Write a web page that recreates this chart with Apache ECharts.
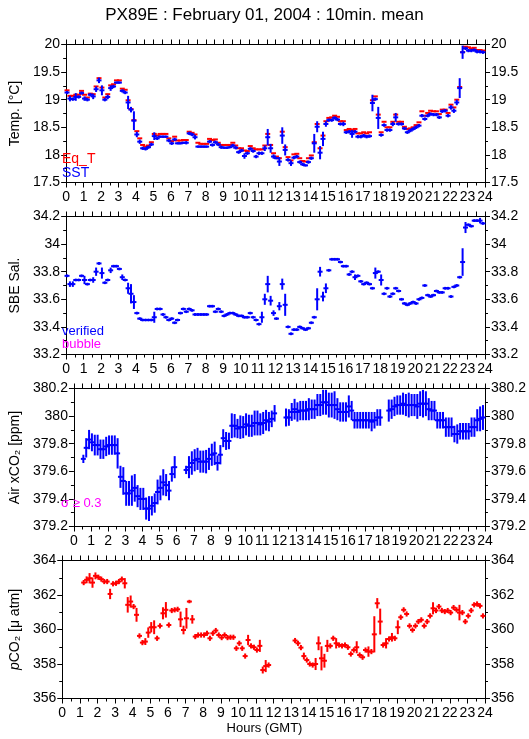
<!DOCTYPE html>
<html><head><meta charset="utf-8">
<script src="https://cdn.jsdelivr.net/npm/echarts/dist/echarts.min.js"></script>
<style>html,body{margin:0;padding:0;background:#fff}#c{width:529px;height:739px}</style>
</head><body><div id="c"></div>
<script>
// 10-minute slots, index k -> hour (k + 0.3)/6
const SLOTS = 144;

const sst = [19.13,19.02,19.01,19.05,19.05,19.12,19.02,19.00,19.09,19.06,
 19.19,19.35,19.17,19.00,19.05,19.21,19.24,19.31,19.31,19.16,
 19.13,18.95,18.82,18.62,18.37,18.24,18.12,18.11,18.14,18.19,
 18.34,18.30,18.33,18.33,18.33,18.26,18.21,18.28,18.21,18.21,
 18.22,18.22,18.39,18.37,18.32,18.15,18.15,18.15,18.15,18.24,
 18.18,18.23,18.19,18.14,18.13,18.13,18.14,18.17,18.13,18.05,
 18.08,17.98,18.03,18.11,18.07,17.97,18.03,18.03,18.12,18.32,
 18.12,17.97,17.94,17.88,18.35,18.09,17.91,17.85,17.95,17.97,
 17.87,17.83,17.81,17.87,17.94,18.21,18.51,18.04,18.29,18.56,
 18.63,18.63,18.67,18.64,18.56,18.56,18.41,18.42,18.38,18.42,
 18.33,18.33,18.35,18.33,18.34,18.94,19.01,18.67,18.36,18.54,
 18.45,18.45,18.56,18.68,18.56,18.56,18.48,18.41,18.44,18.47,
 18.50,18.53,18.71,18.65,18.71,18.74,18.73,18.73,18.68,18.79,
 18.80,18.71,18.86,18.80,18.95,19.21,19.86,19.93,19.89,19.89,
 19.90,19.87,19.87,19.86];

const sstErr = [0.03,0.05,0.03,0.07,0.03,0.03,0.04,0.03,0.03,0.05,
 0.05,0.05,0.09,0.03,0.04,0.05,0.03,0.02,0.02,0.03,
 0.03,0.12,0.05,0.17,0.05,0.04,0.03,0.03,0.03,0.03,
 0.07,0.03,0.02,0.02,0.02,0.03,0.03,0.03,0.02,0.02,
 0.02,0.03,0.03,0.03,0.04,0.02,0.02,0.02,0.02,0.03,
 0.03,0.03,0.03,0.03,0.02,0.02,0.02,0.03,0.03,0.03,
 0.03,0.05,0.03,0.03,0.03,0.03,0.03,0.03,0.05,0.15,
 0.08,0.04,0.02,0.08,0.15,0.10,0.03,0.05,0.03,0.03,
 0.03,0.03,0.02,0.03,0.03,0.17,0.10,0.12,0.13,0.05,
 0.03,0.03,0.03,0.03,0.03,0.04,0.03,0.03,0.07,0.03,
 0.03,0.03,0.03,0.03,0.03,0.15,0.03,0.20,0.03,0.03,
 0.03,0.03,0.04,0.08,0.03,0.03,0.03,0.03,0.03,0.03,
 0.03,0.03,0.03,0.03,0.03,0.03,0.03,0.03,0.03,0.03,
 0.03,0.03,0.04,0.04,0.05,0.18,0.12,0.03,0.03,0.03,
 0.03,0.03,0.03,0.03];

const eqT = [19.17,19.07,19.07,19.09,19.09,19.16,19.09,19.04,19.11,19.10,
 19.24,19.39,19.22,19.04,19.10,19.26,19.28,19.35,19.35,19.20,
 19.18,18.99,18.83,18.63,18.43,18.30,18.18,18.15,18.17,18.23,
 18.38,18.35,18.38,18.38,18.38,18.30,18.25,18.33,18.26,18.26,
 18.27,18.27,18.42,18.40,18.37,18.22,18.20,18.20,18.20,18.29,
 18.27,18.28,18.22,18.18,18.18,18.18,18.18,18.22,18.17,18.12,
 18.12,18.08,18.07,18.16,18.12,18.10,18.10,18.10,18.17,18.38,
 18.18,18.03,17.97,17.94,18.42,18.14,17.96,17.90,18.01,18.02,
 17.94,17.89,17.88,17.94,17.99,18.23,18.56,18.12,18.35,18.61,
 18.67,18.68,18.71,18.69,18.61,18.61,18.45,18.47,18.45,18.47,
 18.39,18.39,18.41,18.39,18.41,18.99,19.06,18.73,18.41,18.60,
 18.50,18.50,18.60,18.73,18.60,18.60,18.51,18.47,18.48,18.50,
 18.54,18.59,18.79,18.71,18.76,18.80,18.79,18.79,18.74,18.82,
 18.82,18.76,18.91,18.86,19.00,19.23,19.86,19.96,19.95,19.93,
 19.94,19.90,19.90,19.89];

const sal = [33.77,33.71,33.71,33.74,33.74,33.77,33.74,33.71,33.74,33.74,
 33.80,33.86,33.79,33.72,33.74,33.81,33.84,33.84,33.82,33.76,
 33.74,33.68,33.64,33.58,33.50,33.46,33.45,33.45,33.45,33.45,
 33.47,33.53,33.53,33.49,33.47,33.45,33.46,33.43,33.45,33.50,
 33.53,33.51,33.53,33.52,33.49,33.49,33.49,33.49,33.49,33.55,
 33.55,33.51,33.53,33.51,33.48,33.49,33.50,33.50,33.49,33.48,
 33.48,33.47,33.47,33.50,33.47,33.45,33.42,33.47,33.60,33.71,
 33.59,33.50,33.46,33.55,33.71,33.56,33.40,33.35,33.38,33.38,
 33.40,33.39,33.38,33.39,33.43,33.47,33.60,33.80,33.62,33.68,
 33.81,33.89,33.89,33.89,33.87,33.84,33.84,33.78,33.80,33.76,
 33.77,33.73,33.71,33.72,33.71,33.68,33.79,33.80,33.74,33.64,
 33.68,33.62,33.64,33.68,33.66,33.60,33.57,33.56,33.57,33.58,
 33.57,33.60,33.61,33.70,33.63,33.62,33.63,33.66,33.65,33.65,
 33.68,33.68,33.62,33.69,33.70,33.76,33.87,34.12,34.14,34.13,
 34.17,34.17,34.17,34.15];

const salErr = [0.01,0.02,0.02,0.01,0.01,0.01,0.03,0.01,0.01,0.02,
 0.03,0.01,0.04,0.01,0.01,0.02,0.01,0.01,0.01,0.02,
 0.01,0.04,0.07,0.05,0.01,0.01,0.01,0.01,0.01,0.01,
 0.04,0.01,0.01,0.01,0.01,0.01,0.01,0.01,0.01,0.01,
 0.01,0.01,0.01,0.01,0.01,0.01,0.01,0.01,0.01,0.01,
 0.01,0.01,0.01,0.01,0.01,0.01,0.01,0.01,0.01,0.01,
 0.01,0.01,0.01,0.01,0.01,0.01,0.01,0.04,0.04,0.06,
 0.035,0.02,0.01,0.03,0.04,0.08,0.01,0.01,0.01,0.01,
 0.01,0.01,0.01,0.01,0.01,0.01,0.08,0.035,0.035,0.035,
 0.01,0.01,0.01,0.01,0.01,0.01,0.01,0.01,0.01,0.02,
 0.01,0.01,0.01,0.01,0.01,0.01,0.04,0.01,0.04,0.01,
 0.01,0.01,0.01,0.01,0.01,0.01,0.01,0.01,0.01,0.01,
 0.01,0.01,0.01,0.01,0.01,0.01,0.01,0.01,0.01,0.01,
 0.01,0.01,0.01,0.01,0.01,0.01,0.10,0.04,0.01,0.01,
 0.01,0.01,0.02,0.01];

const airCO2 = [null,null,null,379.69,379.77,379.83,379.81,379.79,379.79,379.76,
 379.76,379.78,379.79,379.79,379.79,379.73,379.56,379.53,379.44,379.44,
 379.46,379.48,379.42,379.40,379.40,379.33,379.33,379.35,379.37,379.45,
 379.48,379.52,379.50,379.46,379.58,379.63,null,null,null,379.61,
 379.63,379.66,379.68,379.69,379.67,379.67,379.67,379.69,379.72,379.73,
 379.66,379.72,379.84,379.82,379.82,379.93,379.93,379.91,379.92,379.92,
 379.94,379.93,379.93,379.95,379.95,379.94,379.95,379.97,379.96,379.98,
 380.02,null,null,null,379.99,379.99,380.03,380.05,380.03,380.04,
 380.04,380.04,380.05,380.05,380.05,380.08,380.08,380.10,380.10,380.08,
 380.08,380.08,380.05,380.03,380.03,380.03,380.07,380.04,379.97,379.97,
 379.97,379.97,379.97,379.97,379.96,379.97,379.99,379.99,null,null,
 380.04,380.05,380.07,380.08,380.08,380.09,380.08,380.08,380.08,380.08,
 380.07,380.09,380.09,380.09,380.05,380.04,380.04,379.97,379.97,379.97,
 379.92,379.92,379.92,379.87,379.87,379.89,379.89,379.89,379.89,379.92,
 379.92,379.97,379.98,379.99];

const airErr = [0,0,0,0.03,0.07,0.07,0.065,0.075,0.075,0.07,
 0.07,0.07,0.07,0.07,0.07,0.11,0.08,0.10,0.09,0.09,
 0.11,0.10,0.08,0.08,0.08,0.08,0.09,0.07,0.07,0.09,
 0.09,0.095,0.08,0.07,0.055,0.08,0,0,0,0.03,
 0.08,0.085,0.08,0.08,0.08,0.08,0.085,0.08,0.08,0.085,
 0.055,0.07,0.065,0.065,0.06,0.09,0.085,0.07,0.085,0.08,
 0.08,0.08,0.08,0.09,0.09,0.08,0.08,0.075,0.07,0.06,
 0.06,0,0,0,0.065,0.06,0.065,0.075,0.07,0.07,
 0.07,0.07,0.08,0.07,0.07,0.08,0.08,0.09,0.09,0.09,
 0.09,0.10,0.08,0.07,0.07,0.07,0.08,0.07,0.06,0.06,
 0.06,0.06,0.06,0.06,0.07,0.06,0.06,0.06,0,0,
 0.08,0.07,0.07,0.07,0.07,0.08,0.08,0.09,0.08,0.08,
 0.09,0.09,0.10,0.09,0.08,0.07,0.07,0.06,0.06,0.06,
 0.07,0.07,0.07,0.06,0.07,0.06,0.06,0.06,0.06,0.07,
 0.07,0.08,0.09,0.09];

const pco2 = [null,null,null,null,null,null,null,362.72,362.88,362.97,
 362.72,363.11,363.03,362.92,362.78,362.78,362.06,362.65,362.68,362.78,
 362.92,362.68,361.43,361.62,361.33,360.85,359.63,359.24,359.30,359.82,
 360.13,360.13,359.49,360.21,360.94,361.14,360.26,361.10,361.14,361.17,
 360.59,359.97,360.65,361.62,360.59,359.59,359.68,359.68,359.68,359.78,
 359.49,359.78,359.94,359.68,359.53,359.68,359.53,359.55,359.55,358.91,
 359.20,358.91,358.46,359.39,359.05,358.97,358.81,359.05,357.65,357.88,
 357.94,null,null,null,null,null,null,null,null,359.36,
 359.20,358.95,358.46,358.23,358.00,357.94,358.00,359.20,358.33,358.19,
 359.05,359.05,359.49,359.20,359.10,359.05,359.10,358.97,358.58,358.81,
 358.97,358.52,358.39,358.81,358.72,358.72,359.72,361.52,360.46,359.10,
 359.20,359.45,359.55,359.49,360.13,360.71,361.14,360.90,360.21,359.97,
 360.21,360.46,360.56,360.21,360.46,360.79,361.23,361.10,361.33,361.10,
 361.04,361.10,360.98,361.27,361.14,360.98,360.98,360.46,360.79,361.10,
 361.43,361.48,361.37,360.79];

const pco2Err = [0,0,0,0,0,0,0,0.15,0.2,0.3,
 0.3,0.2,0.15,0.15,0.15,0.15,0.3,0.15,0.15,0.15,
 0.15,0.3,0.45,0.35,0.15,0.4,0.15,0.15,0.2,0.3,
 0.3,0.4,0.15,0.15,0.35,0.45,0.15,0.15,0.15,0.15,
 0.45,0.25,0.6,0.1,0.25,0.15,0.15,0.15,0.15,0.15,
 0.15,0.15,0.15,0.15,0.15,0.15,0.15,0.15,0.15,0.15,
 0.15,0.15,0.15,0.3,0.15,0.15,0.15,0.35,0.2,0.35,
 0.15,0,0,0,0,0,0,0,0,0.15,
 0.15,0.15,0.2,0.15,0.15,0.15,0.35,0.4,0.7,0.4,
 0.35,0.15,0.15,0.3,0.15,0.15,0.15,0.15,0.15,0.15,
 0.35,0.15,0.15,0.15,0.3,0.15,1.05,0.3,0.75,0.15,
 0.3,0.15,0.25,0.15,0.4,0.15,0.15,0.15,0.15,0.15,
 0.15,0.15,0.15,0.15,0.15,0.15,0.35,0.15,0.15,0.15,
 0.15,0.15,0.15,0.15,0.15,0.45,0.15,0.15,0.15,0.15,
 0.15,0.15,0.15,0.15];

const hourTicks = [0,24,1];
const FONT = '"Liberation Sans", Arial, Helvetica, sans-serif';
const BLUE = '#0000ff', RED = '#ff0000', MAG = '#ff00ff';

function toData(vals, errs) {
  const out = [];
  for (let k = 0; k < SLOTS; k++) {
    if (vals[k] == null) continue;
    out.push([(k + 0.3) / 6, vals[k], errs ? errs[k] : 0]);
  }
  return out;
}

function mkRender(color) {
  return function (params, api) {
    const x = api.value(0), y = api.value(1), e = api.value(2);
    const c = api.coord([x, y]);
    const children = [{
      type: 'line',
      shape: { x1: c[0] - 2.5, y1: c[1], x2: c[0] + 2.5, y2: c[1] },
      style: { stroke: color, lineWidth: 2 }
    }];
    if (e > 0) {
      const hi = api.coord([x, y + e]), lo = api.coord([x, y - e]);
      children.push({
        type: 'line',
        shape: { x1: c[0], y1: hi[1], x2: c[0], y2: lo[1] },
        style: { stroke: color, lineWidth: 2 }
      });
    }
    return { type: 'group', children };
  };
}

const tops = [44.5, 216.5, 388.5, 560.5];
const panelAxes = [
  { name: 'Temp. [°C]', min: 17.5, max: 20, interval: 0.5 },
  { name: 'SBE Sal.', min: 33.2, max: 34.2, interval: 0.2 },
  { name: 'Air xCO\u2082 [ppm]', min: 379.2, max: 380.2, interval: 0.2 },
  { name: '{i|p}CO\u2082 [\u03bc atm]', min: 356, max: 364, interval: 2 }
];

const blk = { color: '#000', width: 1 };
const grid = [], xAxis = [], yAxis = [];
panelAxes.forEach((p, i) => {
  grid.push({ left: 58.5, right: 44, top: tops[i], height: 138 });
  const xBase = {
    gridIndex: i, type: 'value', min: hourTicks[0], max: hourTicks[1], interval: hourTicks[2],
    axisLine: { show: true, onZero: false, lineStyle: blk },
    axisTick: { show: true, length: 5, lineStyle: blk },
    minorTick: { show: true, splitNumber: 2, length: 3, lineStyle: blk },
    splitLine: { show: false }
  };
  xAxis.push(Object.assign({}, xBase, {
    position: 'bottom',
    axisLabel: { color: '#000', fontSize: 14, margin: 8, fontFamily: FONT }
  }));
  xAxis.push(Object.assign({}, xBase, {
    position: 'top',
    minorTick: { show: true, splitNumber: 2, length: 5, lineStyle: blk },
    axisLabel: { show: false }
  }));
  const fmt = v => String(+v.toFixed(2));
  const yBase = {
    gridIndex: i, type: 'value', min: p.min, max: p.max, interval: p.interval,
    axisLine: { show: true, onZero: false, lineStyle: blk },
    axisTick: { show: true, length: 5, lineStyle: blk },
    minorTick: { show: true, splitNumber: 2, length: 3, lineStyle: blk },
    splitLine: { show: false },
    axisLabel: { color: '#000', fontSize: 14, margin: 6, fontFamily: FONT, formatter: fmt }
  };
  yAxis.push(Object.assign({}, yBase, {
    position: 'left',
    name: p.name, nameLocation: 'middle', nameGap: 32, nameRotate: 90,
    nameTextStyle: { color: '#000', fontSize: 14, fontFamily: FONT,
      rich: { i: { fontStyle: 'italic', fontSize: 14, fontFamily: FONT, color: '#000' } } }
  }));
  yAxis.push(Object.assign({}, yBase, { position: 'right' }));
});

const series = [
  { type: 'custom', xAxisIndex: 0, yAxisIndex: 0, renderItem: mkRender(RED), data: toData(eqT, null), clip: false },
  { type: 'custom', xAxisIndex: 0, yAxisIndex: 0, renderItem: mkRender(BLUE), data: toData(sst, sstErr), clip: false },
  { type: 'custom', xAxisIndex: 2, yAxisIndex: 2, renderItem: mkRender(BLUE), data: toData(sal, salErr), clip: false },
  { type: 'custom', xAxisIndex: 4, yAxisIndex: 4, renderItem: mkRender(BLUE), data: toData(airCO2, airErr), clip: false },
  { type: 'custom', xAxisIndex: 6, yAxisIndex: 6, renderItem: mkRender(RED), data: toData(pco2, pco2Err), clip: false }
];

const txt = (x, y, s, color, size, extra) => ({
  type: 'text', left: x, top: y, z: 100,
  style: Object.assign({ text: s, fill: color, fontSize: size, fontFamily: FONT }, extra || {})
});

const chart = echarts.init(document.getElementById('c'), null, { renderer: 'canvas' });
chart.setOption({
  animation: false,
  backgroundColor: '#fff',
  title: {
    text: 'PX89E : February 01, 2004 : 10min. mean',
    left: 'center', top: 2,
    textStyle: { color: '#000', fontSize: 17, fontWeight: 'normal', fontFamily: FONT }
  },
  grid, xAxis, yAxis, series,
  graphic: [
    txt(62, 152, 'Eq_T', RED, 14),
    txt(62, 166, 'SST', BLUE, 14),
    txt(62, 325, 'verified', BLUE, 13),
    txt(62, 338, 'bubble', MAG, 13),
    txt(61, 497, 'σ ≥ 0.3', MAG, 13),
    { type: 'text', left: 'center', top: 722, z: 100,
      style: { text: 'Hours (GMT)', fill: '#000', fontSize: 13, fontFamily: FONT } }
  ]
});
</script></body></html>
